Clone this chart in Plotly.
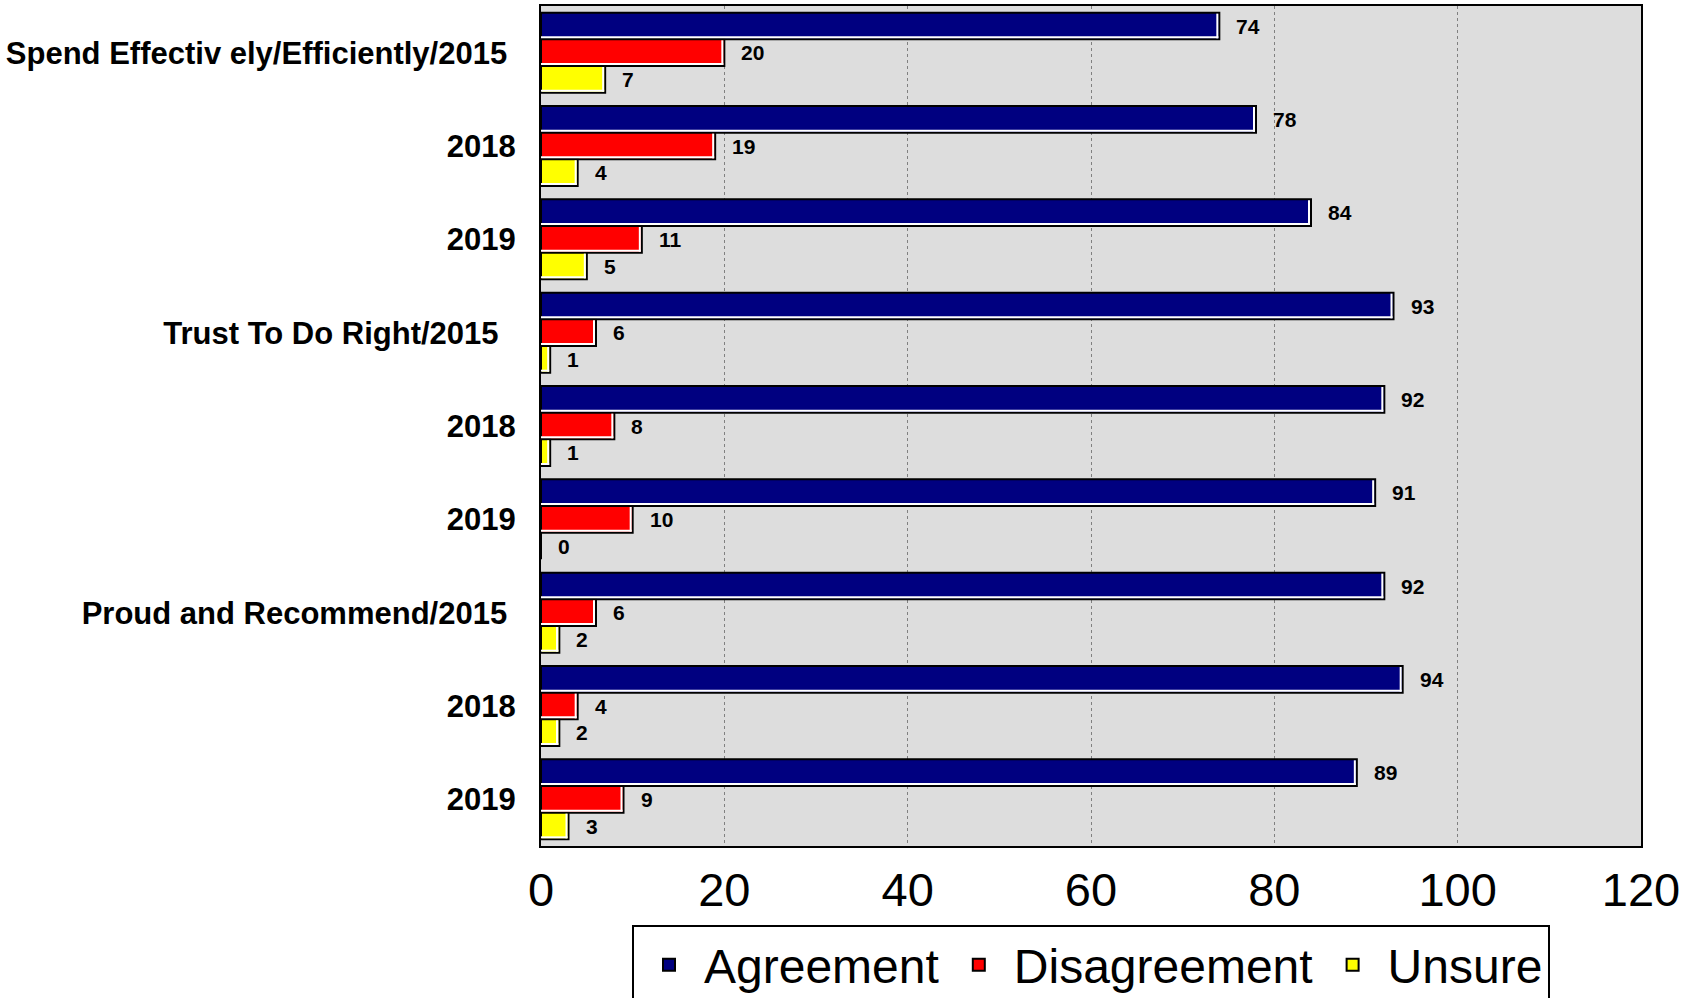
import plotly.graph_objects as go

# ---------------- data ----------------
categories = [
    "Spend Effectiv ely/Efficiently/2015\u00a0",
    "2018",
    "2019",
    "Trust To Do Right/2015\u00a0\u00a0",
    "2018",
    "2019",
    "Proud and Recommend/2015\u00a0",
    "2018",
    "2019",
]
agreement = [74, 78, 84, 93, 92, 91, 92, 94, 89]
disagreement = [20, 19, 11, 6, 8, 10, 6, 4, 9]
unsure = [7, 4, 5, 1, 1, 0, 2, 2, 3]
series_names = ["Agreement", "Disagreement", "Unsure"]
series_colors = ["#000080", "#FF0000", "#FFFF00"]
x_ticks = [0, 20, 40, 60, 80, 100, 120]

# ---------------- layout constants ----------------
W, H = 1701, 998
ML, MR, MT, MB = 541, 60, 6, 152
plot_w = W - ML - MR
plot_h = H - MT - MB
XMAX = 120
px_per_x = plot_w / XMAX
px_per_y = plot_h / len(categories)

bar_w = 0.2857
offsets = [-0.4286, -0.1429, 0.1429]
LINE = 2
dx_in = 1 / px_per_x
dy_in = 1 / px_per_y

ypos = list(range(len(categories)))
all_values = [agreement, disagreement, unsure]

fig = go.Figure()

for name, color, vals, off in zip(series_names, series_colors, all_values, offsets):
    # main bar with black outline
    fig.add_trace(go.Bar(
        name=name, y=ypos, x=vals, orientation="h",
        width=bar_w, offset=off,
        marker=dict(color=color, line=dict(color="black", width=LINE)),
        showlegend=True, hoverinfo="x+name",
    ))
for name, vals, off in zip(series_names, all_values, offsets):
    # white inner strip on the right end
    fig.add_trace(go.Bar(
        y=ypos, x=[2 * dx_in if v > 0 else 0 for v in vals],
        base=[v - 3 * dx_in if v > 0 else 0 for v in vals],
        orientation="h", width=bar_w - 2 * dy_in, offset=off + dy_in,
        marker=dict(color="white", line=dict(width=0)),
        showlegend=False, hoverinfo="skip",
    ))
    # white inner strip along the bottom
    fig.add_trace(go.Bar(
        y=ypos, x=[max(v - dx_in, 0) for v in vals], base=0,
        orientation="h", width=2 * dy_in, offset=off + bar_w - 3 * dy_in,
        marker=dict(color="white", line=dict(width=0)),
        showlegend=False, hoverinfo="skip",
    ))

# value labels
for vals, off in zip(all_values, offsets):
    for i, v in enumerate(vals):
        fig.add_annotation(
            x=v, y=i + off + bar_w / 2, text=str(v), showarrow=False,
            xanchor="left", yanchor="middle", xshift=15,
            font=dict(family="Liberation Sans, Arial, sans-serif", size=21,
                      color="black", weight="bold"),
        )

fig.update_layout(
    width=W, height=H,
    margin=dict(l=ML, r=MR, t=MT, b=MB, pad=0, autoexpand=False),
    barmode="overlay",
    plot_bgcolor="#DDDDDD",
    paper_bgcolor="white",
    font=dict(family="Liberation Sans, Arial, sans-serif", color="black"),
    legend=dict(
        orientation="h", x=0.5, xanchor="center", y=-0.094, yanchor="top",
        font=dict(family="Liberation Sans, Arial", size=48, color="black"),
        bordercolor="black", borderwidth=2, bgcolor="white",
        itemwidth=60, tracegroupgap=0,
    ),
)
fig.update_xaxes(
    range=[0, XMAX], tickvals=x_ticks, ticktext=[str(t) for t in x_ticks],
    showgrid=True, gridcolor="#808080", gridwidth=1, griddash="3px,3px",
    showline=True, linecolor="black", linewidth=2, mirror=True,
    zeroline=False, ticks="outside", ticklen=2, tickcolor="rgba(0,0,0,0)",
    automargin=False,
    tickfont=dict(family="Liberation Sans, Arial", size=47, color="black"),
)
fig.update_yaxes(
    range=[len(categories) - 0.5, -0.5], tickvals=ypos, ticktext=categories,
    showgrid=False, zeroline=False,
    showline=True, linecolor="black", linewidth=2, mirror=True,
    ticks="outside", ticklen=17, tickcolor="rgba(0,0,0,0)",
    automargin=False,
    tickfont=dict(family="Liberation Sans, Arial, sans-serif", size=31,
                  color="black", weight="bold"),
)

fig.write_html(
    "out.html",
    config={"displayModeBar": False},
    post_script="document.body.style.margin='0';document.body.style.overflow='hidden';",
)
